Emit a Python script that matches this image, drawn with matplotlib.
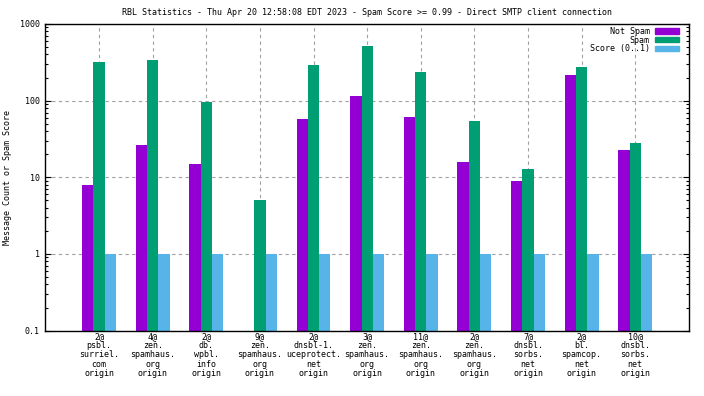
import numpy as np
import matplotlib
matplotlib.use("Agg")
import matplotlib.pyplot as plt
from matplotlib.patches import Patch

plt.rcParams['font.family'] = ['DejaVu Sans Mono']

title = "RBL Statistics - Thu Apr 20 12:58:08 EDT 2023 - Spam Score >= 0.99 - Direct SMTP client connection"

labels = [
    "2@\npsbl.\nsurriel.\ncom\norigin",
    "4@\nzen.\nspamhaus.\norg\norigin",
    "2@\ndb.\nwpbl.\ninfo\norigin",
    "9@\nzen.\nspamhaus.\norg\norigin",
    "2@\ndnsbl-1.\nuceprotect.\nnet\norigin",
    "3@\nzen.\nspamhaus.\norg\norigin",
    "11@\nzen.\nspamhaus.\norg\norigin",
    "2@\nzen.\nspamhaus.\norg\norigin",
    "7@\ndnsbl.\nsorbs.\nnet\norigin",
    "2@\nbl.\nspamcop.\nnet\norigin",
    "10@\ndnsbl.\nsorbs.\nnet\norigin",
]
not_spam = [8, 26, 15, 0, 58, 116, 62, 16, 9, 213, 23]
spam = [315, 335, 95, 5, 288, 510, 234, 54, 13, 272, 28]
score = [1.0, 1.0, 1.0, 1.0, 1.0, 1.0, 1.0, 1.0, 0.99, 0.99, 0.99]

c_not = "#9400D3"
c_spam = "#009E73"
c_score = "#56B4E9"
fs = 6.0

fig = plt.figure(figsize=(7.04, 3.96), dpi=100)
ax = fig.add_axes([0.0645, 0.165, 0.9140, 0.7745])

x = np.arange(len(labels))
w = 0.21
ax.bar(x - w, not_spam, w, color=c_not, log=True, zorder=2)
ax.bar(x, spam, w, color=c_spam, log=True, zorder=2)
ax.bar(x + w, score, w, color=c_score, log=True, zorder=2)

ax.set_yscale('log')
ax.set_ylim(0.1, 1000)
ax.set_xlim(-1, 11)
ax.set_yticks([0.1, 1, 10, 100, 1000])
ax.set_yticklabels(["0.1", "1", "10", "100", "1000"], fontsize=fs)
ax.set_xticks(x)
ax.set_xticklabels(labels, fontsize=fs, linespacing=1.04)
ax.tick_params(axis='x', length=0, pad=0.8)
ax.tick_params(axis='y', which='major', direction='in', length=4, width=0.8,
               left=True, right=True, pad=4)
ax.tick_params(axis='y', which='minor', direction='in', length=2, width=0.8,
               left=True, right=True)

ax.grid(True, axis='both', which='major', color='#a0a0a0',
        linestyle=(0, (3, 3)), linewidth=0.8, zorder=0)
ax.set_axisbelow(True)
for s in ax.spines.values():
    s.set_linewidth(1.0)

fig.text(7.5 / 704, 0.552, "Message Count or Spam Score", rotation=90,
         ha='center', va='center', fontsize=fs)
fig.text(0.522, 0.969, title, ha='center', va='center', fontsize=fs)

handles = [Patch(color=c_not), Patch(color=c_spam), Patch(color=c_score)]
leg = ax.legend(handles, ["Not Spam", "Spam", "Score (0..1)"], loc='upper right',
                bbox_to_anchor=(1 - 10 / 643.4, 1 - 3 / 307),
                frameon=False, fontsize=fs, markerfirst=False,
                handlelength=2.9, handleheight=0.6, handletextpad=0.6,
                labelspacing=-0.05, borderaxespad=0, borderpad=0)

fig.savefig("out.png", dpi=100)
